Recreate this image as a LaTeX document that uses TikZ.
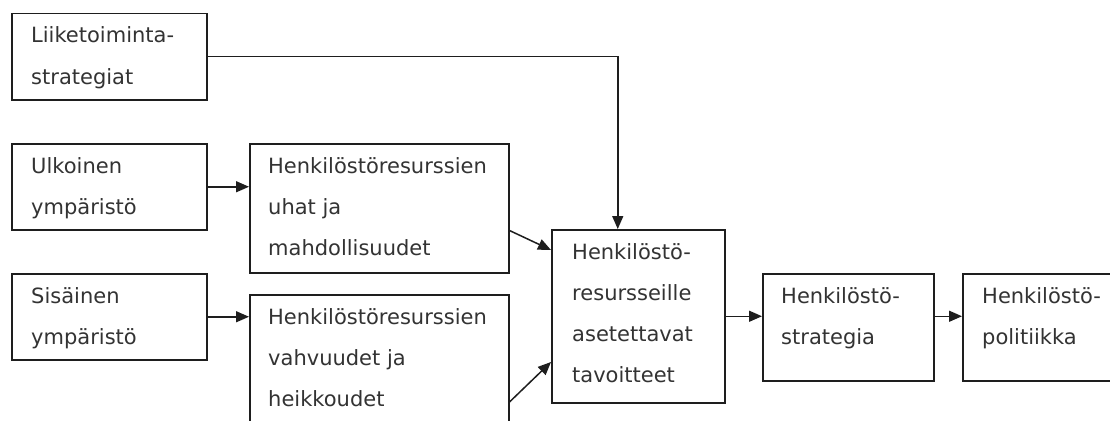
\documentclass[tikz,border=0pt]{standalone}
\usepackage{fontspec}
\setmainfont{DejaVu Sans}
\usetikzlibrary{arrows.meta}
\definecolor{linec}{HTML}{1E1E1E}
\definecolor{textc}{HTML}{333333}
\newcommand\boxlines[1]{\vtop{\baselineskip=41pt\halign{##\hfil\cr#1\crcr}}}
\tikzset{
  blk/.style={draw=linec, line width=1.5pt, rectangle, inner sep=0pt, anchor=north west},
  txt/.style={inner sep=0pt, anchor=base west, text=textc, font=\fontsize{21pt}{41pt}\selectfont},
  arr/.style={draw=linec, line width=1.5pt, -{Triangle[length=13pt,width=11pt]}}
}
\begin{document}
\begin{tikzpicture}[x=1pt,y=-1pt]
\useasboundingbox (0,0) rectangle (1110,420);
\clip (0,0) rectangle (1110,420);
\fill[white] (0,0) rectangle (1110,420);
% boxes
\node[blk, minimum width=195pt, minimum height=86pt] (L) at (11,13) {};
\node[blk, minimum width=195pt, minimum height=86pt] (U) at (11,143) {};
\node[blk, minimum width=195pt, minimum height=86pt] (S) at (11,273) {};
\node[blk, minimum width=259pt, minimum height=129pt] (H1) at (249,143) {};
\node[blk, minimum width=259pt, minimum height=129pt] (H2) at (249,294) {};
\node[blk, minimum width=173pt, minimum height=173pt] (C) at (551,229) {};
\node[blk, minimum width=171pt, minimum height=107pt] (St) at (762,273) {};
\node[blk, minimum width=171pt, minimum height=107pt] (P) at (962,273) {};
% texts
\node[txt] (Lt) at ([shift={(20,30)}]L.north west) {\boxlines{Liiketoiminta-\cr strategiat}};
\node[txt] (Ut) at ([shift={(20,30)}]U.north west) {\boxlines{Ulkoinen\cr ympäristö}};
\node[txt] (St1) at ([shift={(20,30)}]S.north west) {\boxlines{Sisäinen\cr ympäristö}};
\node[txt] (H1t) at ([shift={(19,30)}]H1.north west) {\boxlines{Henkilöstöresurssien\cr uhat ja\cr mahdollisuudet}};
\node[txt] (H2t) at ([shift={(19,30)}]H2.north west) {\boxlines{Henkilöstöresurssien\cr vahvuudet ja\cr heikkoudet}};
\node[txt] (Ct) at ([shift={(21,30)}]C.north west) {\boxlines{Henkilöstö-\cr resursseille\cr asetettavat\cr tavoitteet}};
\node[txt] (Stt) at ([shift={(19,30)}]St.north west) {\boxlines{Henkilöstö-\cr strategia}};
\node[txt] (Pt) at ([shift={(20,30)}]P.north west) {\boxlines{Henkilöstö-\cr politiikka}};
% connectors
\coordinate (Cin) at ([xshift=-20.5pt]C.north);
\draw[arr] (L.east) -| (Cin);
\draw[arr] (U.east) -- (U.east -| H1.west);
\draw[arr] (S.east) -- (S.east -| H2.west);
\coordinate (H1o) at ([yshift=43pt]H1.south east);
\coordinate (C1) at ([yshift=-21pt]C.north west);
\draw[arr] (H1o) -- (C1);
\coordinate (H2o) at ([yshift=-108pt]H2.north east);
\coordinate (C2) at ([yshift=-133pt]C.north west);
\draw[arr] (H2o) -- (C2);
\draw[arr] (C.east) -- (C.east -| St.west);
\draw[arr] (C.east -| St.east) -- (C.east -| P.west);
\end{tikzpicture}
\end{document}
